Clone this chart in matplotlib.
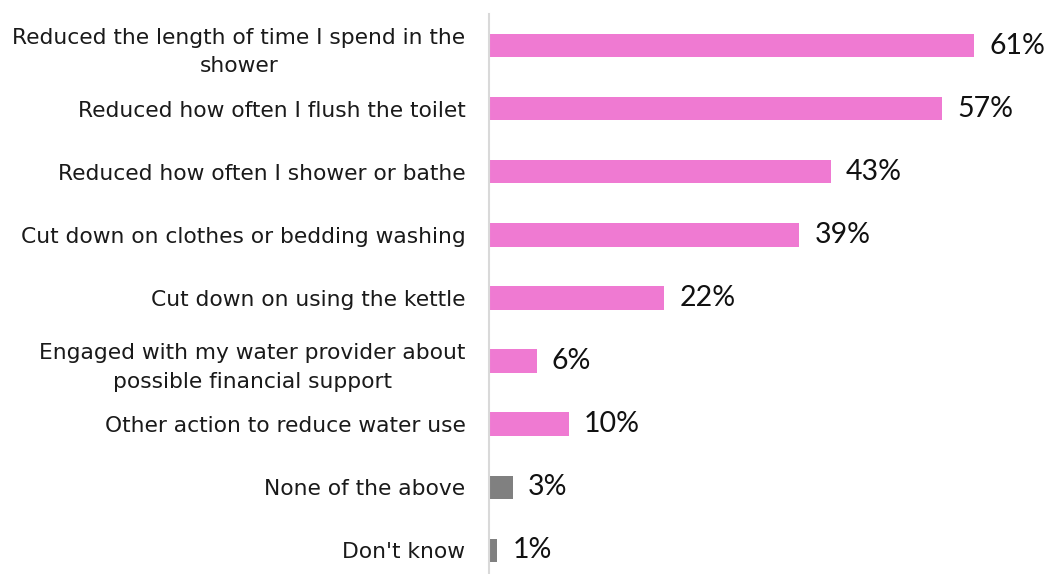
import matplotlib
matplotlib.use("Agg")
import matplotlib.pyplot as plt

categories = [
    "Reduced the length of time I spend in the\nshower",
    "Reduced how often I flush the toilet",
    "Reduced how often I shower or bathe",
    "Cut down on clothes or bedding washing",
    "Cut down on using the kettle",
    "Engaged with my water provider about\npossible financial support",
    "Other action to reduce water use",
    "None of the above",
    "Don't know",
]
values = [61, 57, 43, 39, 22, 6, 10, 3, 1]
value_labels = ["61%", "57%", "43%", "39%", "22%", "6%", "10%", "3%", "1%"]
colors = ["#EF7AD2"] * 7 + ["#808080"] * 2

plt.rcParams['font.family'] = ['DejaVu Sans']

W, H = 1044, 574
fig = plt.figure(figsize=(W / 100, H / 100), dpi=100)
ax = fig.add_axes([489 / W, 0, (W - 489) / W, (574 - 14) / H])

y = list(range(len(categories)))
ax.barh(y, values, height=0.37, color=colors, left=0)
ax.set_xlim(0, (W - 489) / 7.95)
ax.set_ylim(-0.5 + 560 / 63.1, -0.5)

for yi, v, lab in zip(y, values, value_labels):
    ax.annotate(lab, (v, yi), xytext=(11, 0), textcoords="offset points",
                ha="left", va="center", fontsize=20.5, color="#111111",
                family=["Lato", "DejaVu Sans"])

ax.set_yticks(y)
ax.set_yticklabels(categories, fontsize=15.7, color="#1a1a1a",
                   multialignment="center", linespacing=1.55)
ax.tick_params(axis="y", length=0, pad=17)
ax.set_xticks([])
for s in ["top", "right", "bottom"]:
    ax.spines[s].set_visible(False)
ax.spines["left"].set_color("#d9d9d9")
ax.spines["left"].set_linewidth(1.5)

fig.savefig("out.png", dpi=100)
